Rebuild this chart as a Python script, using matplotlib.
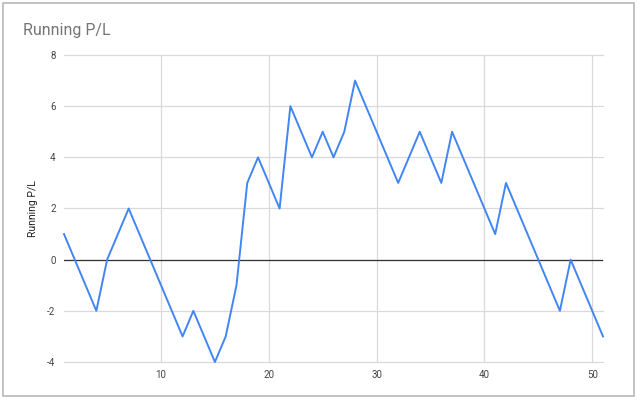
import matplotlib
matplotlib.use("Agg")
import matplotlib.pyplot as plt
from matplotlib.patches import Rectangle

plt.rcParams['font.family'] = ['Roboto', 'DejaVu Sans']
plt.rcParams['axes.unicode_minus'] = False

x_vals = list(range(1, 52))
pl_vals = [1, 0, -1, -2, 0, 1, 2, 1, 0, -1,
           -2, -3, -2, -3, -4, -3, -1, 3, 4, 3,
           2, 6, 5, 4, 5, 4, 5, 7, 6, 5,
           4, 3, 4, 5, 4, 3, 5, 4, 3, 2,
           1, 3, 2, 1, 0, -1, -2, 0, -1, -2,
           -3]
x_ticks = [10, 20, 30, 40, 50]
y_ticks = [-4, -2, 0, 2, 4, 6, 8]

fig = plt.figure(figsize=(6.4, 4.01), dpi=100)
fig.patch.set_facecolor("white")

# outer chart frame
fig.add_artist(Rectangle((3/640, 1 - 396/401), 631/640, 393/401,
                         transform=fig.transFigure, fill=False,
                         edgecolor="#b7b7b7", linewidth=1.2))

ax = fig.add_axes([64/640, 1 - 362/401, (603 - 64)/640, (362 - 55)/401])
ax.plot(x_vals, pl_vals, color="#4285F4", linewidth=1.4, zorder=3, clip_on=False)
ax.axhline(0, color="#333333", linewidth=0.9, zorder=2)

ax.set_xlim(1, 51)
ax.set_ylim(-4, 8)
ax.set_xticks(x_ticks)
ax.set_yticks(y_ticks)
ax.grid(True, color="#d9d9d9", linewidth=0.9, zorder=1)
for gl in ax.get_xgridlines() + ax.get_ygridlines():
    gl.set_clip_on(False)
for s in ax.spines.values():
    s.set_visible(False)
ax.tick_params(axis="both", length=0, labelsize=7, labelcolor="#444444", pad=6)
ax.set_ylabel("Running P/L", fontsize=7.5, color="#222222", labelpad=7)

fig.text(23/640, 1 - 31/401, "Running P/L", fontsize=11.5, color="#757575",
         va="center", ha="left")

fig.savefig("out.png", dpi=100)
